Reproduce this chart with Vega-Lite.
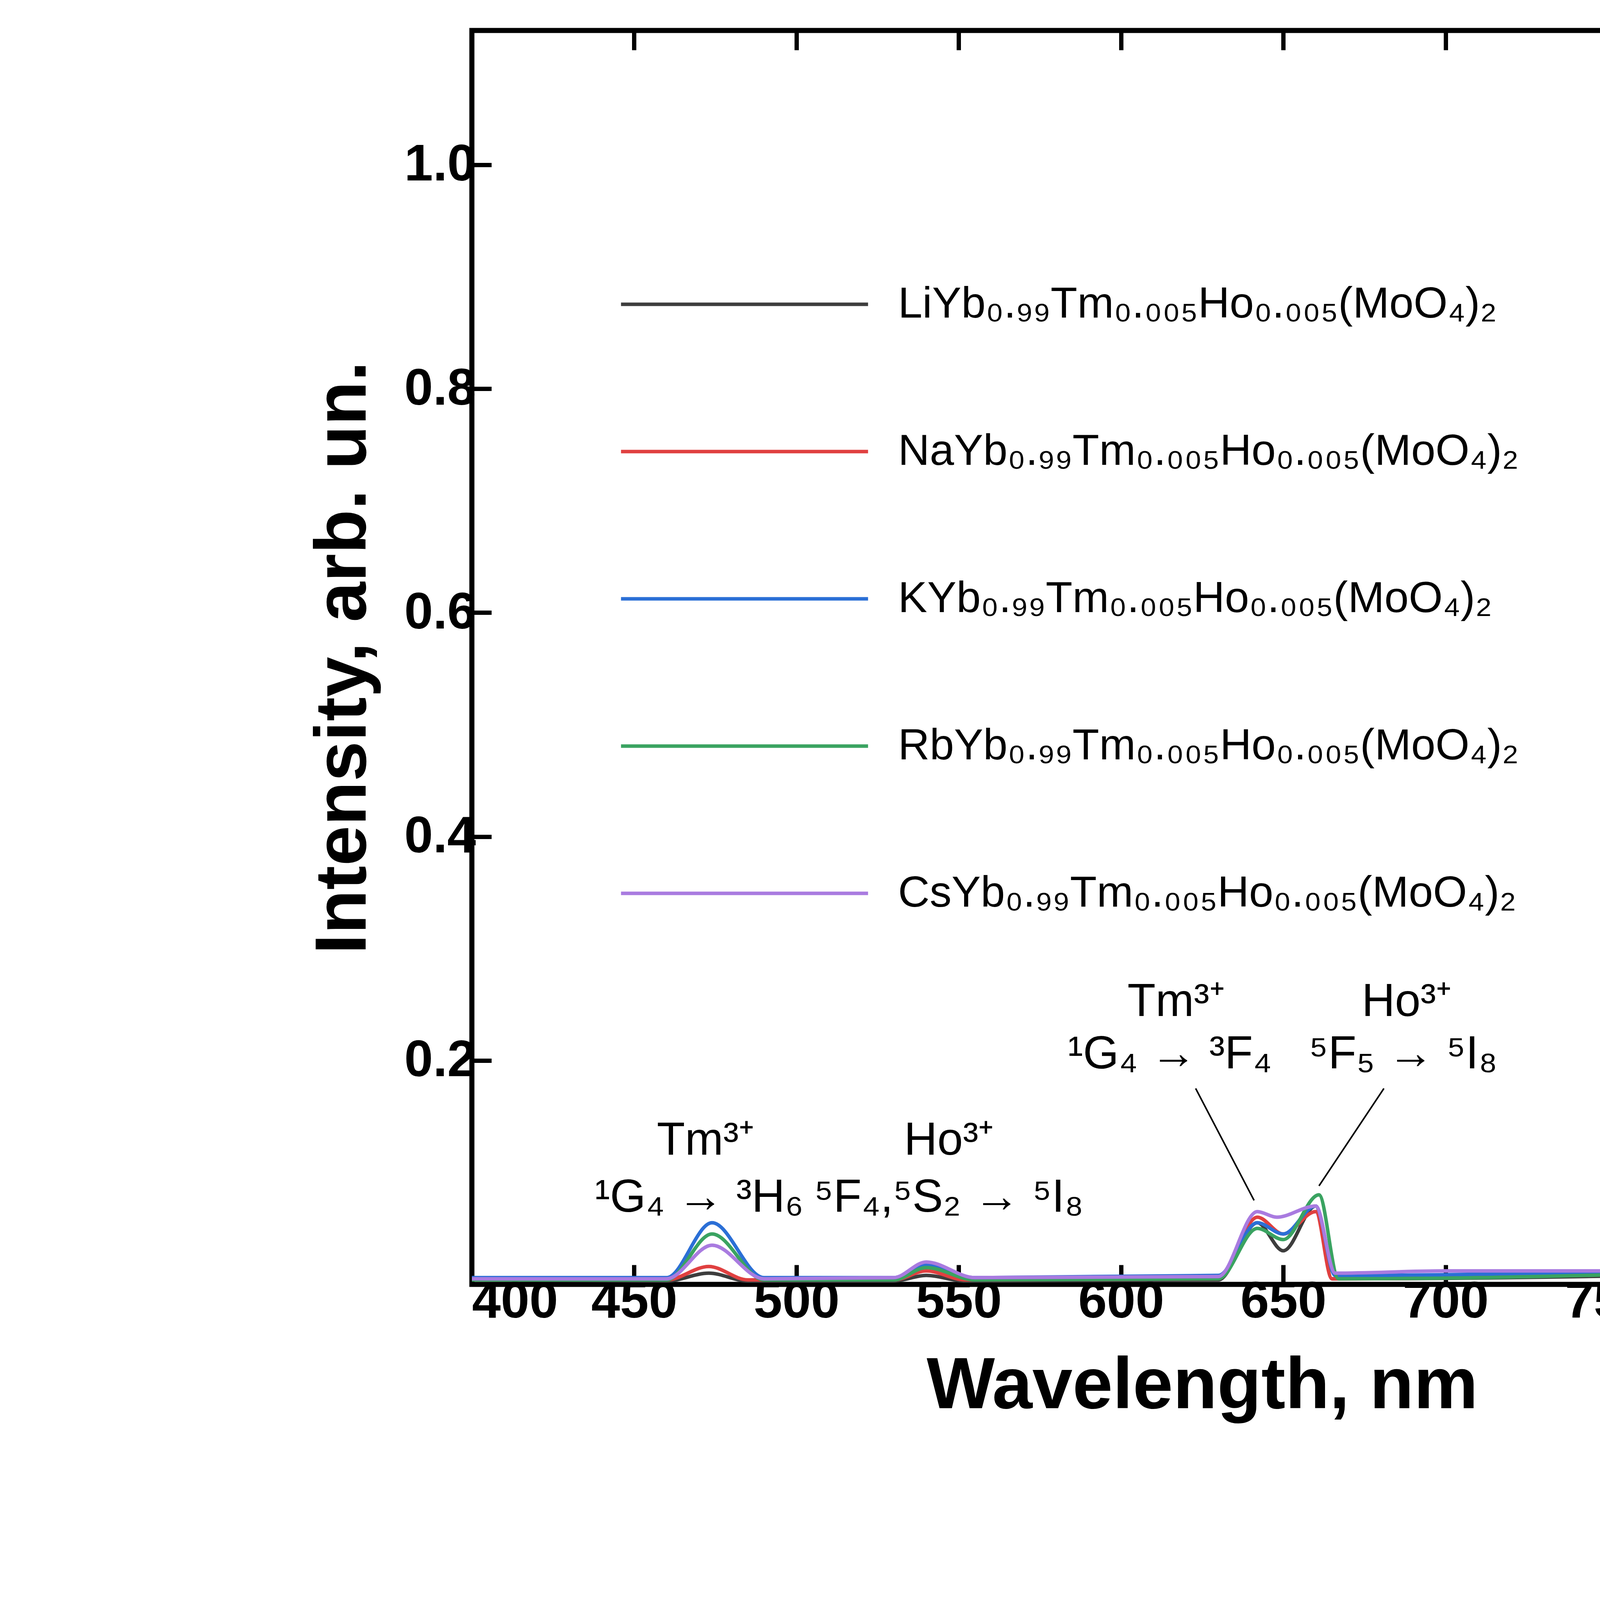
{
  "$schema": "https://vega.github.io/schema/vega-lite/v6.json",
  "width": 5118,
  "height": 4296,
  "autosize": {"type": "fit", "contains": "padding"},
  "padding": {"left": 787, "top": 72, "right": 165, "bottom": 655},
  "background": "white",
  "config": {
    "font": "Liberation Sans",
    "view": {"stroke": "black", "strokeWidth": 13},
    "axis": {
      "domain": false, "grid": false, "tickColor": "black", "tickWidth": 11, "tickSize": -50, "labelLimit": 2000,
      "labelFont": "Liberation Sans", "labelFontWeight": "bold", "labelFontSize": 132, "labelColor": "black",
      "titleFont": "Liberation Sans", "titleFontWeight": "bold", "titleFontSize": 185, "titleColor": "black"
    }
  },
  "datasets": {
    "spec": [
      {"s": "Li", "x": 400, "y": 0.004}, {"s": "Li", "x": 460, "y": 0.003}, {"s": "Li", "x": 473, "y": 0.01}, {"s": "Li", "x": 485, "y": 0.003},
      {"s": "Li", "x": 530, "y": 0.003}, {"s": "Li", "x": 540, "y": 0.008}, {"s": "Li", "x": 552, "y": 0.003}, {"s": "Li", "x": 630, "y": 0.004},
      {"s": "Li", "x": 642, "y": 0.055}, {"s": "Li", "x": 650, "y": 0.03}, {"s": "Li", "x": 660, "y": 0.07}, {"s": "Li", "x": 665, "y": 0.005},
      {"s": "Li", "x": 760, "y": 0.008}, {"s": "Li", "x": 775, "y": 0.1}, {"s": "Li", "x": 785, "y": 0.2}, {"s": "Li", "x": 790, "y": 0.5},
      {"s": "Li", "x": 795, "y": 0.965}, {"s": "Li", "x": 800, "y": 0.76}, {"s": "Li", "x": 805, "y": 0.85}, {"s": "Li", "x": 812, "y": 0.65},
      {"s": "Li", "x": 820, "y": 0.35}, {"s": "Li", "x": 830, "y": 0.05}, {"s": "Li", "x": 850, "y": 0.02},
      {"s": "Na", "x": 400, "y": 0.004}, {"s": "Na", "x": 460, "y": 0.004}, {"s": "Na", "x": 473, "y": 0.016}, {"s": "Na", "x": 485, "y": 0.004},
      {"s": "Na", "x": 530, "y": 0.004}, {"s": "Na", "x": 540, "y": 0.012}, {"s": "Na", "x": 552, "y": 0.004}, {"s": "Na", "x": 630, "y": 0.005},
      {"s": "Na", "x": 642, "y": 0.06}, {"s": "Na", "x": 650, "y": 0.045}, {"s": "Na", "x": 660, "y": 0.065}, {"s": "Na", "x": 665, "y": 0.005},
      {"s": "Na", "x": 760, "y": 0.01}, {"s": "Na", "x": 775, "y": 0.1}, {"s": "Na", "x": 782, "y": 0.2}, {"s": "Na", "x": 790, "y": 0.6},
      {"s": "Na", "x": 794, "y": 0.965}, {"s": "Na", "x": 797, "y": 0.8}, {"s": "Na", "x": 803, "y": 0.87}, {"s": "Na", "x": 810, "y": 0.7},
      {"s": "Na", "x": 820, "y": 0.3}, {"s": "Na", "x": 828, "y": 0.02}, {"s": "Na", "x": 850, "y": 0.01},
      {"s": "K", "x": 400, "y": 0.006}, {"s": "K", "x": 460, "y": 0.006}, {"s": "K", "x": 474, "y": 0.055}, {"s": "K", "x": 490, "y": 0.006},
      {"s": "K", "x": 530, "y": 0.006}, {"s": "K", "x": 540, "y": 0.018}, {"s": "K", "x": 555, "y": 0.006}, {"s": "K", "x": 630, "y": 0.008},
      {"s": "K", "x": 642, "y": 0.055}, {"s": "K", "x": 650, "y": 0.045}, {"s": "K", "x": 660, "y": 0.07}, {"s": "K", "x": 666, "y": 0.008},
      {"s": "K", "x": 755, "y": 0.012}, {"s": "K", "x": 772, "y": 0.085}, {"s": "K", "x": 780, "y": 0.12}, {"s": "K", "x": 790, "y": 0.2},
      {"s": "K", "x": 796, "y": 0.6}, {"s": "K", "x": 801, "y": 0.94}, {"s": "K", "x": 806, "y": 0.8}, {"s": "K", "x": 815, "y": 0.4},
      {"s": "K", "x": 825, "y": 0.1}, {"s": "K", "x": 835, "y": 0.03}, {"s": "K", "x": 850, "y": 0.02},
      {"s": "Rb", "x": 400, "y": 0.004}, {"s": "Rb", "x": 460, "y": 0.004}, {"s": "Rb", "x": 474, "y": 0.045}, {"s": "Rb", "x": 490, "y": 0.004},
      {"s": "Rb", "x": 530, "y": 0.004}, {"s": "Rb", "x": 540, "y": 0.015}, {"s": "Rb", "x": 555, "y": 0.004}, {"s": "Rb", "x": 630, "y": 0.005},
      {"s": "Rb", "x": 642, "y": 0.05}, {"s": "Rb", "x": 650, "y": 0.04}, {"s": "Rb", "x": 661, "y": 0.08}, {"s": "Rb", "x": 667, "y": 0.005},
      {"s": "Rb", "x": 765, "y": 0.01}, {"s": "Rb", "x": 778, "y": 0.13}, {"s": "Rb", "x": 788, "y": 0.2}, {"s": "Rb", "x": 795, "y": 0.5},
      {"s": "Rb", "x": 800, "y": 0.955}, {"s": "Rb", "x": 804, "y": 0.85}, {"s": "Rb", "x": 812, "y": 0.55}, {"s": "Rb", "x": 820, "y": 0.25},
      {"s": "Rb", "x": 830, "y": 0.05}, {"s": "Rb", "x": 850, "y": 0.03},
      {"s": "Cs", "x": 400, "y": 0.005}, {"s": "Cs", "x": 460, "y": 0.005}, {"s": "Cs", "x": 474, "y": 0.035}, {"s": "Cs", "x": 490, "y": 0.005},
      {"s": "Cs", "x": 530, "y": 0.006}, {"s": "Cs", "x": 540, "y": 0.02}, {"s": "Cs", "x": 555, "y": 0.006}, {"s": "Cs", "x": 630, "y": 0.007},
      {"s": "Cs", "x": 642, "y": 0.065}, {"s": "Cs", "x": 648, "y": 0.06}, {"s": "Cs", "x": 660, "y": 0.07}, {"s": "Cs", "x": 666, "y": 0.01},
      {"s": "Cs", "x": 700, "y": 0.012}, {"s": "Cs", "x": 755, "y": 0.012}, {"s": "Cs", "x": 772, "y": 0.07}, {"s": "Cs", "x": 782, "y": 0.12},
      {"s": "Cs", "x": 792, "y": 0.3}, {"s": "Cs", "x": 797, "y": 0.7}, {"s": "Cs", "x": 801, "y": 1.005}, {"s": "Cs", "x": 805, "y": 0.8},
      {"s": "Cs", "x": 812, "y": 0.4}, {"s": "Cs", "x": 820, "y": 0.15}, {"s": "Cs", "x": 830, "y": 0.04}, {"s": "Cs", "x": 850, "y": 0.02}
    ],
    "notes": [
      {"x": 472, "y": 0.128, "t": "Tm³⁺"}, {"x": 470, "y": 0.077, "t": "¹G₄ → ³H₆"},
      {"x": 547, "y": 0.128, "t": "Ho³⁺"}, {"x": 547, "y": 0.077, "t": "⁵F₄,⁵S₂ → ⁵I₈"},
      {"x": 617, "y": 0.252, "t": "Tm³⁺"}, {"x": 615, "y": 0.205, "t": "¹G₄ → ³F₄"},
      {"x": 688, "y": 0.252, "t": "Ho³⁺"}, {"x": 687, "y": 0.205, "t": "⁵F₅ → ⁵I₈"},
      {"x": 797.6, "y": 1.08, "t": "Tm³⁺"}, {"x": 797, "y": 1.03, "t": "³H₄ → ³H₆"}
    ],
    "arrows": [
      {"x": 623, "y": 0.175, "x2": 641, "y2": 0.075},
      {"x": 681, "y": 0.175, "x2": 661, "y2": 0.088}
    ]
  },
  "layer": [
    {
      "data": {"name": "spec"},
      "transform": [{"lookup": "s", "from": {"data": {"values": [
        {"s": "Li", "name": "LiYb₀.₉₉Tm₀.₀₀₅Ho₀.₀₀₅(MoO₄)₂"},
        {"s": "Na", "name": "NaYb₀.₉₉Tm₀.₀₀₅Ho₀.₀₀₅(MoO₄)₂"},
        {"s": "K", "name": "KYb₀.₉₉Tm₀.₀₀₅Ho₀.₀₀₅(MoO₄)₂"},
        {"s": "Rb", "name": "RbYb₀.₉₉Tm₀.₀₀₅Ho₀.₀₀₅(MoO₄)₂"},
        {"s": "Cs", "name": "CsYb₀.₉₉Tm₀.₀₀₅Ho₀.₀₀₅(MoO₄)₂"}
      ]}, "key": "s", "fields": ["name"]}}],
      "mark": {"type": "line", "strokeWidth": 9, "interpolate": "monotone", "clip": true},
      "encoding": {
        "x": {"field": "x", "type": "quantitative", "scale": {"domain": [400, 850], "nice": false},
          "axis": {"title": "Wavelength, nm", "values": [400, 450, 500, 550, 600, 650, 700, 750, 800, 850], "labelPadding": 30, "titlePadding": 60}},
        "y": {"field": "y", "type": "quantitative", "scale": {"domain": [0, 1.12], "nice": false},
          "axis": {"title": "Intensity, arb. un.", "values": [0.2, 0.4, 0.6, 0.8, 1.0], "format": ".1f", "labelPadding": 40, "titlePadding": 60}},
        "color": {"field": "name", "type": "nominal",
          "sort": ["LiYb₀.₉₉Tm₀.₀₀₅Ho₀.₀₀₅(MoO₄)₂", "NaYb₀.₉₉Tm₀.₀₀₅Ho₀.₀₀₅(MoO₄)₂", "KYb₀.₉₉Tm₀.₀₀₅Ho₀.₀₀₅(MoO₄)₂", "RbYb₀.₉₉Tm₀.₀₀₅Ho₀.₀₀₅(MoO₄)₂", "CsYb₀.₉₉Tm₀.₀₀₅Ho₀.₀₀₅(MoO₄)₂"],
          "scale": {"range": ["#3d3d3d", "#e04040", "#2b6fd6", "#3aa361", "#a97be0"]},
          "legend": {"title": null, "orient": "none", "legendX": 377, "legendY": 380, "symbolType": "stroke", "symbolSize": 400000, "symbolStrokeWidth": 9,
            "labelFontSize": 112, "labelFont": "Liberation Sans", "labelColor": "black", "labelOffset": 72, "rowPadding": 0, "labelLimit": 3000}}
      }
    },
    {
      "data": {"name": "arrows"},
      "mark": {"type": "rule", "strokeWidth": 4, "color": "black"},
      "encoding": {"x": {"field": "x", "type": "quantitative", "axis": null}, "y": {"field": "y", "type": "quantitative", "axis": null},
        "x2": {"field": "x2"}, "y2": {"field": "y2"}}
    },
    {
      "data": {"name": "notes"},
      "mark": {"type": "text", "fontSize": 118, "font": "Liberation Sans", "color": "black"},
      "encoding": {
        "x": {"field": "x", "type": "quantitative", "axis": {"orient": "top", "labels": false, "title": null, "values": [400, 450, 500, 550, 600, 650, 700, 750, 800, 850]}},
        "y": {"field": "y", "type": "quantitative", "axis": {"orient": "right", "labels": false, "title": null, "values": [0.2, 0.4, 0.6, 0.8, 1.0]}},
        "text": {"field": "t"}
      }
    }
  ],
  "resolve": {"axis": {"x": "independent", "y": "independent"}}
}
